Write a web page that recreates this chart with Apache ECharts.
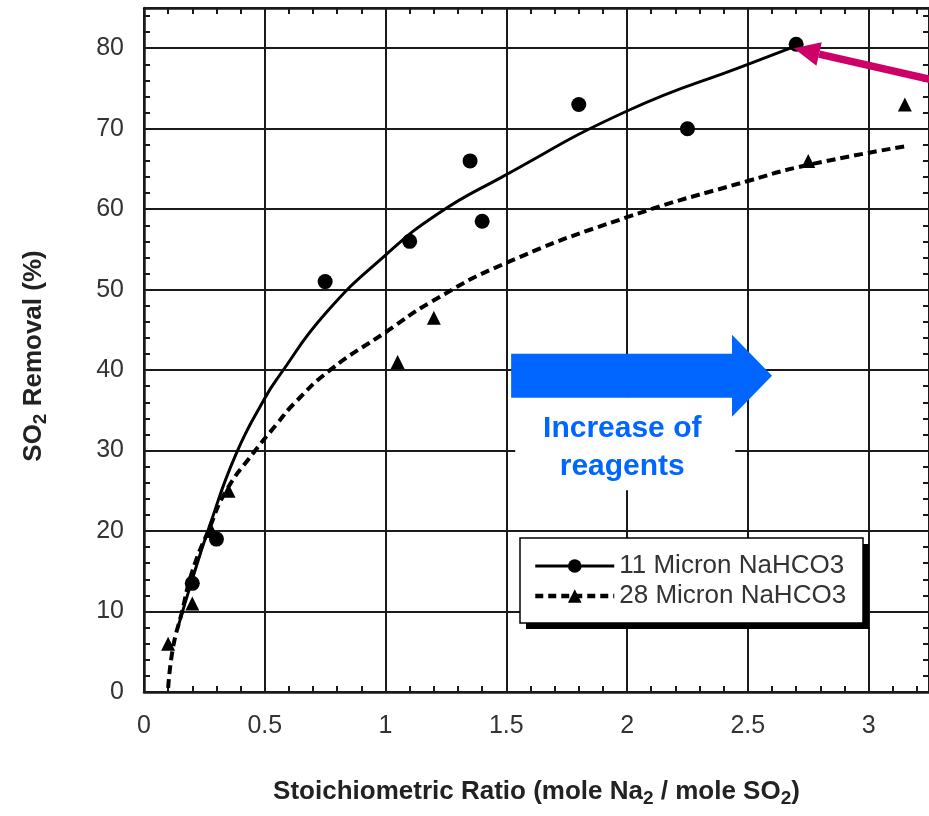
<!DOCTYPE html>
<html>
<head>
<meta charset="utf-8">
<title>SO2 Removal vs Stoichiometric Ratio</title>
<script src="https://cdn.jsdelivr.net/npm/echarts@6/dist/echarts.min.js"></script>
<style>
  html, body { margin: 0; padding: 0; background: #fff; }
  #chart { width: 929px; height: 816px; }
</style>
</head>
<body>
<div id="chart"></div>
<script>
// measured points: [stoichiometric ratio, SO2 removal %]
var micron11Points = [[0.2, 13.5], [0.3, 19], [0.75, 51], [1.1, 56], [1.35, 66], [1.4, 58.5], [1.8, 73], [2.25, 70], [2.7, 80.5]];
var micron28Points = [[0.1, 6], [0.2, 11], [0.28, 20], [0.35, 25], [1.05, 41], [1.2, 46.5], [2.75, 66], [3.15, 73]];

// fitted curves
var micron11Fit = [[0.14, 8], [0.2, 14], [0.27, 20.5], [0.38, 29.5], [0.5, 36.5], [0.56, 39.3], [0.75, 47], [1.0, 54.3], [1.22, 59.5], [1.47, 63.8], [2.0, 72.2], [2.5, 78], [2.7, 80.3]];
var micron28Fit = [[0.1, 0.5], [0.12, 5.5], [0.155, 9.7], [0.2, 15], [0.27, 20.3], [0.34, 25], [0.45, 29.6], [0.55, 33.3], [0.62, 35.8], [0.77, 40], [1.0, 44.7], [1.19, 48.5], [1.49, 53.2], [2.0, 59], [2.5, 63.5], [2.75, 65.5], [3.15, 67.8]];

var seriesNames = ['11 Micron NaHCO3', '28 Micron NaHCO3'];

// axis ranges
var xRange = [0, 3.25], xStep = 0.5;
var yRange = [0, 85], yStep = 10;

// annotations (data coords)
var reagentArrow = { from: [1.52, 39.3], to: [2.6, 39.3] };
var reagentText = { at: [1.98, 30.4], text: 'Increase of\nreagents' };
var pointerArrow = { from: [3.36, 75.4], to: [2.69, 80] };

var font = 'Liberation Sans, Arial, sans-serif';
var ink = '#1a1a1a';

function frameAxis(pos, range, step, isX, withLabels) {
  return {
    type: 'value',
    position: pos,
    min: range[0],
    max: range[1],
    interval: step,
    axisLine: { show: true, onZero: false, lineStyle: { color: ink, width: 2.5 } },
    axisTick: { show: true, inside: true, length: 6, lineStyle: { color: ink, width: 2 } },
    minorTick: { show: true, splitNumber: 5, length: 6, lineStyle: { color: ink, width: 2 } },
    axisLabel: {
      show: withLabels,
      color: '#333',
      fontSize: 25,
      fontFamily: font,
      margin: isX ? 22 : 20,
      showMaxLabel: false
    },
    splitLine: { show: withLabels, lineStyle: { color: ink, width: 2 } }
  };
}

var nameRich = {
  b: { fontSize: 26, fontWeight: 'bold', fontFamily: font, color: '#222' },
  s: { fontSize: 19, fontWeight: 'bold', fontFamily: font, color: '#222', padding: [14, 0, 0, 0] }
};

var bottomX = frameAxis('bottom', xRange, xStep, true, true);
bottomX.name = '{b|Stoichiometric Ratio (mole Na}{s|2}{b| / mole SO}{s|2}{b|)}';
bottomX.nameLocation = 'middle';
bottomX.nameGap = 83;
bottomX.nameTextStyle = { rich: nameRich };

var leftY = frameAxis('left', yRange, yStep, false, true);
leftY.name = '{b|SO}{s|2}{b| Removal (%)}';
leftY.nameLocation = 'middle';
leftY.nameGap = 94;
leftY.nameTextStyle = { rich: nameRich, padding: [0, 12, 0, 0] };

var option = {
  animation: false,
  backgroundColor: '#fff',
  grid: { left: 144, top: 8, right: -5, bottom: 124 },
  xAxis: [bottomX, frameAxis('top', xRange, xStep, true, false)],
  yAxis: [leftY, frameAxis('right', yRange, yStep, false, false)],
  legend: {
    data: [
      { name: seriesNames[0], lineStyle: { width: 3, type: 'solid' } },
      { name: seriesNames[1], lineStyle: { width: 4.5, type: [8, 5] } }
    ],
    orient: 'vertical',
    left: 520,
    top: 538,
    padding: [15, 13, 14, 13],
    itemGap: 4,
    itemWidth: 79,
    itemHeight: 17,
    textStyle: { fontSize: 26, fontFamily: font, color: '#333' }
  },
  series: [
    {
      name: seriesNames[0],
      type: 'line',
      data: micron11Fit,
      smooth: 0.5,
      symbol: 'circle',
      showSymbol: false,
      itemStyle: { color: '#000' },
      lineStyle: { color: '#000', width: 3 },
      z: 3
    },
    {
      name: seriesNames[0],
      type: 'scatter',
      data: micron11Points,
      symbol: 'circle',
      symbolSize: 15,
      itemStyle: { color: '#000', opacity: 1 },
      z: 4
    },
    {
      name: seriesNames[1],
      type: 'line',
      data: micron28Fit,
      smooth: 0.5,
      symbol: 'triangle',
      showSymbol: false,
      itemStyle: { color: '#000' },
      lineStyle: { color: '#000', width: 4, type: [9, 5] },
      z: 3
    },
    {
      name: seriesNames[1],
      type: 'scatter',
      data: micron28Points,
      symbol: 'triangle',
      symbolSize: 14,
      itemStyle: { color: '#000', opacity: 1 },
      z: 4
    }
  ]
};

var chart = echarts.init(document.getElementById('chart'));
chart.setOption(option);

function px(p) { return chart.convertToPixel({ seriesIndex: 0 }, p); }

// blue block arrow
var a0 = px(reagentArrow.from), a1 = px(reagentArrow.to);
var shaftHalf = 22, headHalf = 41, headLen = 40;
var cy = a0[1];
var blueArrow = [
  [a0[0], cy - shaftHalf], [a1[0] - headLen, cy - shaftHalf], [a1[0] - headLen, cy - headHalf],
  [a1[0], cy], [a1[0] - headLen, cy + headHalf], [a1[0] - headLen, cy + shaftHalf], [a0[0], cy + shaftHalf]
];

// label with white box behind
var t = px(reagentText.at);

// magenta pointer arrow
var p0 = px(pointerArrow.from), p1 = px(pointerArrow.to);
var dx = p1[0] - p0[0], dy = p1[1] - p0[1];
var len = Math.sqrt(dx * dx + dy * dy);
var ux = dx / len, uy = dy / len, nx = -uy, ny = ux;
var hLen = 26, hHalf = 12;
var base = [p1[0] - ux * hLen, p1[1] - uy * hLen];

// legend frame with hard drop shadow
var legBox = { x: 520, y: 538, w: 343, h: 85, off: 6 };

chart.setOption({
  graphic: [
    {
      type: 'rect', z: 3,
      shape: { x: legBox.x + legBox.off, y: legBox.y + legBox.off, width: legBox.w, height: legBox.h },
      style: { fill: '#000' }
    },
    {
      type: 'rect', z: 3,
      shape: { x: legBox.x, y: legBox.y, width: legBox.w, height: legBox.h },
      style: { fill: '#fff', stroke: '#000', lineWidth: 1.5 }
    },
    {
      type: 'rect', z: 50,
      shape: { x: t[0] - 107, y: t[1] - 50, width: 220, height: 93 },
      style: { fill: '#fff' }
    },
    {
      type: 'polygon', z: 51,
      shape: { points: blueArrow },
      style: { fill: '#0066ff' }
    },
    {
      type: 'text', z: 52,
      x: t[0], y: t[1],
      style: {
        text: reagentText.text,
        fill: '#0066ff',
        font: 'bold 30px ' + font,
        align: 'center',
        verticalAlign: 'middle',
        lineHeight: 38
      }
    },
    {
      type: 'line', z: 53,
      shape: { x1: p0[0], y1: p0[1], x2: base[0], y2: base[1] },
      style: { stroke: '#cc0066', lineWidth: 7.5 }
    },
    {
      type: 'polygon', z: 53,
      shape: {
        points: [
          [p1[0], p1[1]],
          [base[0] + nx * hHalf, base[1] + ny * hHalf],
          [base[0] - nx * hHalf, base[1] - ny * hHalf]
        ]
      },
      style: { fill: '#cc0066' }
    }
  ]
});
</script>
</body>
</html>
